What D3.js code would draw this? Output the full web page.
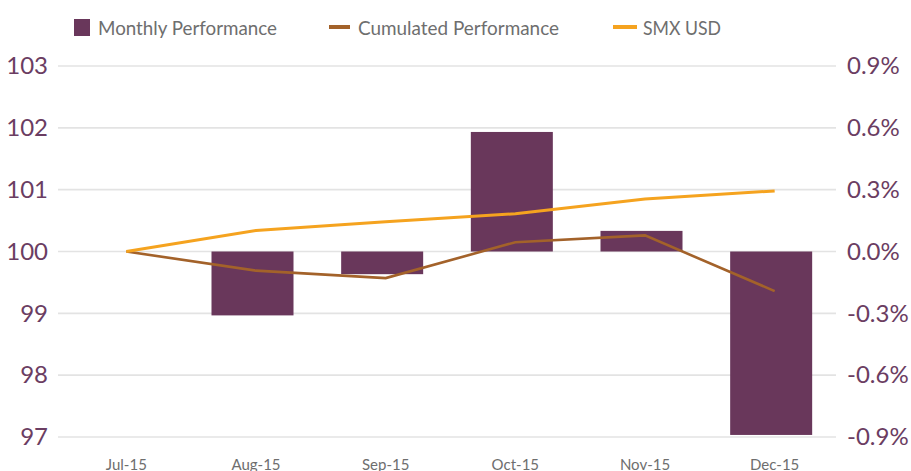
<!DOCTYPE html>
<html><head><meta charset="utf-8">
<script src="https://cdn.jsdelivr.net/npm/d3@7"></script>
<style>body{margin:0;background:#fff;} svg{display:block;}</style>
</head><body>
<svg id="c" width="911" height="471"></svg>
<script>
const categories = ["Jul-15","Aug-15","Sep-15","Oct-15","Nov-15","Dec-15"];
const monthlyPerf = [null,-0.31,-0.11,0.58,0.10,-0.89];       // %
const cumulatedPerf = [100,99.69,99.57,100.15,100.26,99.36];
const smxUsd = [100,100.34,100.48,100.61,100.85,100.98];
const leftTicks = [97,98,99,100,101,102,103];
const rightTicks = [-0.9,-0.6,-0.3,0,0.3,0.6,0.9];
const seriesNames = ["Monthly Performance","Cumulated Performance","SMX USD"];

const svg = d3.select("#c");
const L = 58, R = 836, T = 66, B = 437;
const purple = "#69375b", brown = "#a3622a", orange = "#f5a31f", axisCol = "#6b3d62", grey = "#6e6e6e";
const font = "Lato, 'Open Sans', sans-serif";

const x = d3.scaleBand().domain(categories).range([L, R]).padding(0);
const yL = d3.scaleLinear().domain([97,103]).range([B, T]);
const yR = d3.scaleLinear().domain([-0.9,0.9]).range([B, T]);
const barW = 82, lineOff = 3.5;
const cx = c => x(c) + x.bandwidth()/2;

// gridlines
svg.append("g").selectAll("line").data(leftTicks).join("line")
  .attr("x1", L).attr("x2", R).attr("y1", d => yL(d)).attr("y2", d => yL(d))
  .attr("stroke", "#e3e3e3").attr("stroke-width", 1.6);

// left axis
const gl = svg.append("g").attr("transform", `translate(${L-10},0)`)
  .call(d3.axisLeft(yL).tickValues(leftTicks).tickSize(0).tickPadding(0).tickFormat(d3.format("d")));
gl.select(".domain").remove();
gl.selectAll("text").attr("fill", axisCol).style("font-family", font).style("font-size", "24px");

// right axis
const gr = svg.append("g").attr("transform", `translate(${R+11},0)`)
  .call(d3.axisRight(yR).tickValues(rightTicks).tickSize(0).tickPadding(0)
    .tickFormat(d => (d < 0 ? "-" : "") + Math.abs(d).toFixed(1) + "%"));
gr.select(".domain").remove();
gr.selectAll("text").attr("fill", axisCol).style("font-family", font).style("font-size", "24px");

// x axis labels
const gx = svg.append("g").attr("transform", `translate(${lineOff},${B+19})`)
  .call(d3.axisBottom(x).tickSize(0).tickPadding(0));
gx.select(".domain").remove();
gx.selectAll("text").attr("fill", grey).attr("dy", "0.9em").style("font-family", font).style("font-size", "15px");

// bars
svg.append("g").selectAll("rect").data(categories.map((c,i)=>({c, v: monthlyPerf[i]})).filter(d => d.v !== null))
  .join("rect")
  .attr("x", d => cx(d.c) - barW/2).attr("width", barW)
  .attr("y", d => yR(Math.max(0, d.v))).attr("height", d => Math.abs(yR(d.v) - yR(0)))
  .attr("fill", purple);

// lines
const line = d3.line().x((d,i) => cx(categories[i]) + lineOff).y(d => yL(d));
svg.append("path").datum(cumulatedPerf).attr("d", line).attr("fill","none").attr("stroke", brown).attr("stroke-width", 2.6);
svg.append("path").datum(smxUsd).attr("d", line).attr("fill","none").attr("stroke", orange).attr("stroke-width", 3);

// legend
const lg = svg.append("g");
lg.append("rect").attr("x", 74).attr("y", 19).attr("width", 16).attr("height", 17).attr("fill", purple);
lg.append("text").attr("x", 98).attr("y", 35).text(seriesNames[0]).attr("textLength", 179).attr("lengthAdjust","spacingAndGlyphs");
lg.append("line").attr("x1", 329).attr("x2", 350).attr("y1", 27).attr("y2", 27).attr("stroke", brown).attr("stroke-width", 4);
lg.append("text").attr("x", 358).attr("y", 35).text(seriesNames[1]).attr("textLength", 201).attr("lengthAdjust","spacingAndGlyphs");
lg.append("line").attr("x1", 613).attr("x2", 637).attr("y1", 27).attr("y2", 27).attr("stroke", orange).attr("stroke-width", 4);
lg.append("text").attr("x", 643).attr("y", 35).text(seriesNames[2]).attr("textLength", 78).attr("lengthAdjust","spacingAndGlyphs");
lg.selectAll("text").attr("fill", grey).style("font-family", font).style("font-size", "19px");
</script>
</body></html>
